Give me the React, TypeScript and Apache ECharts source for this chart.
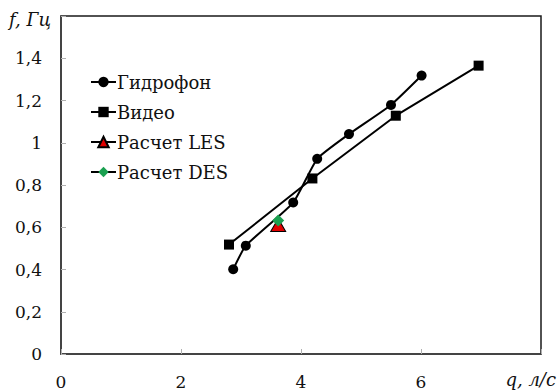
import React, { useEffect, useRef } from "react";
import * as echarts from "echarts";

const hydroX = [2.87, 3.08, 3.87, 4.27, 4.8, 5.5, 6.01];
const hydroY = [0.401, 0.513, 0.717, 0.924, 1.041, 1.179, 1.318];
const videoX = [2.8, 4.19, 5.58, 6.96];
const videoY = [0.518, 0.831, 1.128, 1.365];
const lesX = [3.62];
const lesY = [0.611];
const desX = [3.62];
const desY = [0.632];
const seriesNames = ["Гидрофон", "Видео", "Расчет LES", "Расчет DES"];
const yTickLabels: Record<string, string> = {
  "0": "0", "0.2": "0,2", "0.4": "0,4", "0.6": "0,6", "0.8": "0,8",
  "1": "1", "1.2": "1,2", "1.4": "1,4", "1.6": "",
};
const xTickLabels: Record<string, string> = { "0": "0", "2": "2", "4": "4", "6": "6", "8": "" };

const zip = (xs: number[], ys: number[]) => xs.map((x, i) => [x, ys[i]]);
const FONT = "DejaVu Serif";

export default function App() {
  const ref = useRef<HTMLDivElement>(null);
  useEffect(() => {
    if (!ref.current) return;
    const chart = echarts.init(ref.current, undefined, { renderer: "svg" });
    chart.setOption({
      animation: false,
      backgroundColor: "#fff",
      grid: {
        left: 61, right: 17, top: 16, bottom: 38,
        show: true, borderColor: "#1a1a1a", borderWidth: 1.5,
      },
      xAxis: {
        type: "value", min: 0, max: 8, interval: 2,
        axisLine: { show: true, lineStyle: { color: "#404040", width: 1.5 } },
        axisTick: { show: true, inside: true, length: 5, lineStyle: { color: "#b0b0b0" } },
        splitLine: { show: false },
        axisLabel: {
          color: "#111", fontFamily: FONT, fontSize: 17, margin: 19,
          formatter: (v: number) => xTickLabels[String(v)] ?? String(v),
        },
      },
      yAxis: {
        type: "value", min: 0, max: 1.6, interval: 0.2,
        axisLine: { show: true, lineStyle: { color: "#404040", width: 1.5 } },
        axisTick: { show: true, inside: true, length: 5, lineStyle: { color: "#b0b0b0" } },
        splitLine: { show: false },
        axisLabel: {
          color: "#111", fontFamily: FONT, fontSize: 17, margin: 19,
          formatter: (v: number) => yTickLabels[String(Math.round(v * 10) / 10)] ?? String(v),
        },
      },
      legend: {
        orient: "vertical", left: 90, top: 72, padding: 0,
        itemWidth: 25, itemHeight: 13, itemGap: 10,
        textStyle: { fontFamily: FONT, fontSize: 18, color: "#111", padding: [0, 0, 0, -4], lineHeight: 20 },
        data: seriesNames,
      },
      graphic: [
        { type: "text", left: 9, top: 10, style: { text: "f, Гц", font: `italic 18px "${FONT}"`, fill: "#111" } },
        { type: "text", right: 2, top: 370, style: { text: "q, л/с", font: `italic 18px "${FONT}"`, fill: "#111" } },
      ],
      series: [
        {
          name: seriesNames[0], type: "line", data: zip(hydroX, hydroY), smooth: 0.15,
          symbol: "circle", symbolSize: 10, itemStyle: { color: "#000" },
          lineStyle: { color: "#000", width: 2 },
        },
        {
          name: seriesNames[1], type: "line", data: zip(videoX, videoY),
          symbol: "rect", symbolSize: 10, itemStyle: { color: "#000" },
          lineStyle: { color: "#000", width: 2 },
        },
        {
          name: seriesNames[2], type: "line", data: zip(lesX, lesY),
          symbol: "triangle", symbolSize: [15, 13],
          itemStyle: { color: "#e00000", borderColor: "#000", borderWidth: 1 },
          lineStyle: { color: "#000", width: 2 },
        },
        {
          name: seriesNames[3], type: "line", data: zip(desX, desY),
          symbol: "diamond", symbolSize: 12, itemStyle: { color: "#1aa050" },
          lineStyle: { color: "#000", width: 2 },
        },
      ],
    });
    return () => chart.dispose();
  }, []);
  return <div ref={ref} style={{ width: 558, height: 392, position: "absolute", left: 0, top: 0 }} />;
}
